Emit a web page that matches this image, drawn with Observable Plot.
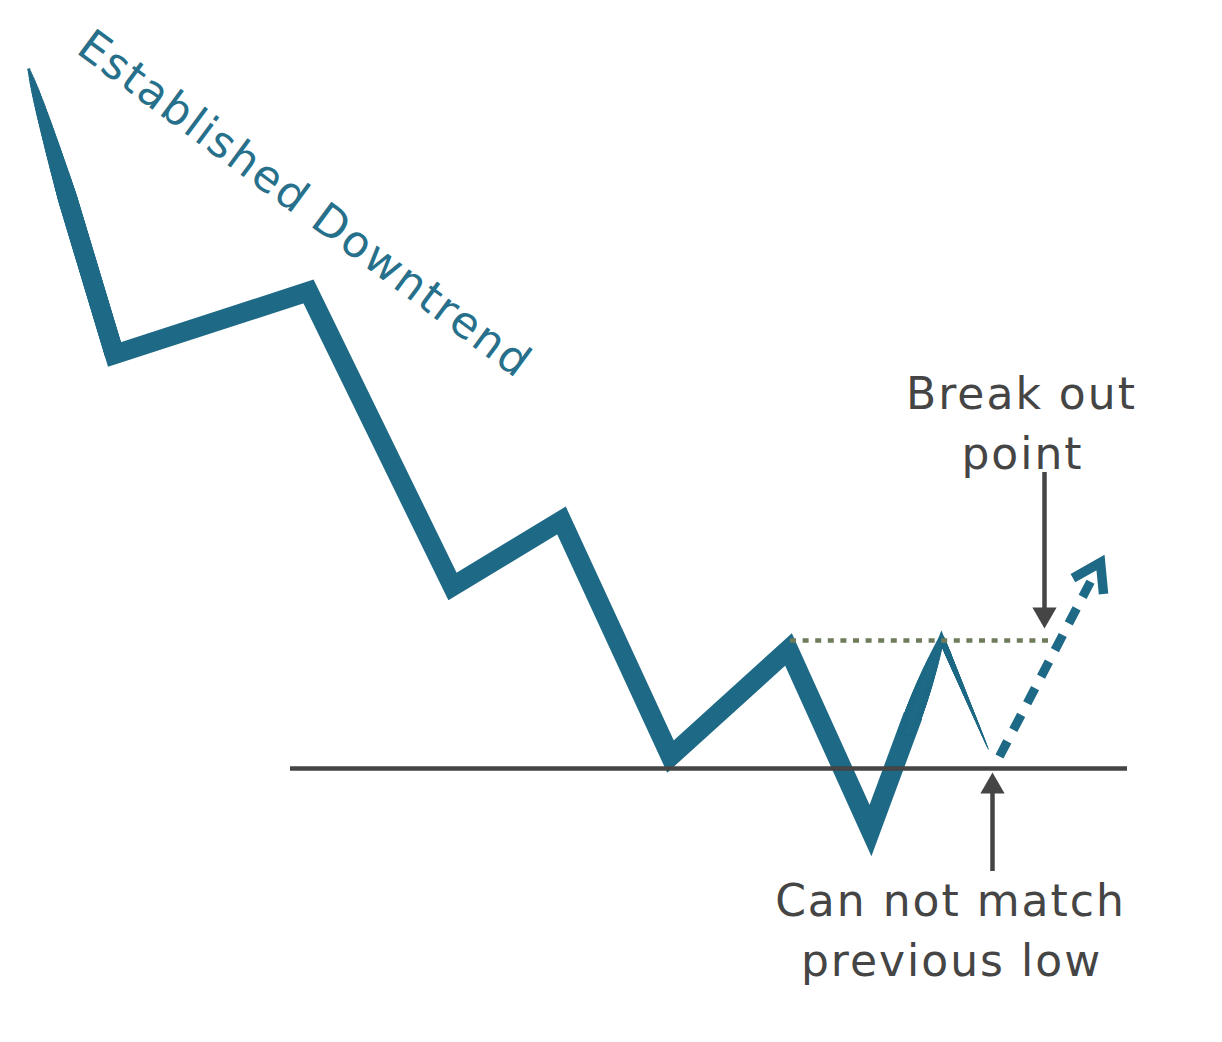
<!DOCTYPE html>
<html><head><meta charset="utf-8">
<script src="https://cdn.jsdelivr.net/npm/d3@7"></script>
<script src="https://cdn.jsdelivr.net/npm/@observablehq/plot@0.6"></script>
<style>
html,body{margin:0;padding:0;background:#fff;overflow:hidden}
#chart svg text{letter-spacing:2px}
</style></head><body><div id="chart"></div>
<script>
// Price path (time units, price units)
const time  = [2.8, 11.4, 30.8, 45.2, 56.1, 67.0, 78.8, 87.0, 94.1, 98.8];
const price = [97.4, 68.8, 75.1, 45.6, 52.2, 28.6, 39.3, 21.2, 40.4, 29.3];
// Projected breakout (dashed)
const breakoutTime  = [99.9, 110.0];
const breakoutPrice = [28.6, 48.0];
// Support and resistance levels
const supportLevel = 27.4;
const supportSpan = [29.0, 112.7];
const resistanceLevel = 40.2;
const resistanceSpan = [79.0, 105.3];
// Pointer arrows: [time, tail price, head price]
const breakArrow = [104.4, 55.2, 41.4];
const lowArrow   = [99.2, 18.9, 27.0];
// Labels
const labelText  = ["Break out", "point", "Can not match", "previous low"];
const labelTime  = [102.1, 102.2, 95.0, 95.1];
const labelPrice = [63.4, 57.4, 12.7, 6.7];
const trendLabel = "Established Downtrend";
const trendTime = 30.4, trendPrice = 83.8;

const teal = "#1e6985", gray = "#454545", olive = "#6f7c5c";
const W = 19.5;

const P = time.map((t, i) => ({x: t, y: price[i]}));
const pt = (i, f) => ({x: time[i] + f * (time[i+1] - time[i]), y: price[i] + f * (price[i+1] - price[i])});

const strokes = [];
// tapered (pen-stroke) start of the first leg
const N = 40, F0 = 0.45;
for (let k = 0; k < N; k++) {
  const f = F0 * k / N;
  strokes.push({pts: [pt(0, f), P[1]], w: Math.max(3, W * Math.sqrt((f + 0.004) / F0))});
}
// main body through the double bottom, into the last rally leg
strokes.push({pts: [pt(0, F0), ...P.slice(1, 8), pt(7, 0.6)], w: W});
// tapering rally leg towards the second peak
for (let k = 0; k <= N; k++) {
  const q = k / N;
  strokes.push({pts: [pt(7, 0.5), pt(7, 0.6 + 0.4 * q)], w: W - 1.5 - (W - 7.5) * q * q});
}
// sharp peak and thin fading leg
strokes.push({pts: [pt(7, 0.9), P[8], pt(8, 0.15)], w: 6});
for (let k = 0; k <= N; k++) {
  strokes.push({pts: [P[8], pt(8, 0.15 + 0.85 * k / N)], w: 6 - 5 * k / N});
}
const lineOpts = (w) => ({x: "x", y: "y", stroke: teal, strokeWidth: w, strokeLinejoin: "miter", strokeMiterlimit: 10, strokeLinecap: "butt"});

const bx0 = breakoutTime[0], by0 = breakoutPrice[0], bx1 = breakoutTime[1], by1 = breakoutPrice[1];
const breakLen = Math.hypot((bx1 - bx0) * 10, (by1 - by0) * 10);

const labels = labelText.map((t, i) => ({text: t, x: labelTime[i], y: labelPrice[i]}));

const chart = Plot.plot({
  width: 1222, height: 1042,
  margin: 0,
  x: {domain: [0, 122.2], axis: null},
  y: {domain: [0, 104.2], axis: null},
  marks: [
    ...strokes.map(s => Plot.line(s.pts, lineOpts(s.w))),
    Plot.link([0], {x1: bx0, y1: by0, x2: bx1, y2: by1, stroke: teal, strokeWidth: 9, strokeDasharray: "17,13", strokeLinecap: "butt"}),
    Plot.arrow([0], {x1: bx0, y1: by0, x2: bx1, y2: by1, stroke: teal, strokeWidth: 9.5, headLength: 5, headAngle: 66, insetStart: breakLen - 4, strokeLinecap: "butt", strokeLinejoin: "miter", strokeMiterlimit: 4}),
    Plot.ruleY([supportLevel], {x1: supportSpan[0], x2: supportSpan[1], stroke: gray, strokeWidth: 4.5}),
    Plot.ruleY([resistanceLevel], {x1: resistanceSpan[0], x2: resistanceSpan[1], stroke: olive, strokeWidth: 4.5, strokeDasharray: "6,6.6"}),
    Plot.ruleX([breakArrow[0]], {y1: breakArrow[1], y2: breakArrow[2], dy: -18, stroke: gray, strokeWidth: 4.5}),
    Plot.dot([0], {x: breakArrow[0], y: breakArrow[2], symbol: "triangle", r: 9, rotate: 180, dy: -14, fill: gray, stroke: "none"}),
    Plot.ruleX([lowArrow[0]], {y1: lowArrow[1], y2: lowArrow[2], dy: 18, stroke: gray, strokeWidth: 4.5}),
    Plot.dot([0], {x: lowArrow[0], y: lowArrow[2], symbol: "triangle", r: 9, rotate: 0, dy: 14, fill: gray, stroke: "none"}),
    Plot.text(labels, {x: "x", y: "y", text: "text", fill: gray, fontSize: 44, fontFamily: "DejaVu Sans", lineAnchor: "bottom", textAnchor: "middle"}),
    Plot.text([trendLabel], {x: trendTime, y: trendPrice, text: d => d, fill: "#27708b", fontSize: 44, fontFamily: "DejaVu Sans", rotate: 36.5, textAnchor: "middle", lineAnchor: "middle"})
  ]
});
document.getElementById("chart").appendChild(chart);
</script></body></html>
